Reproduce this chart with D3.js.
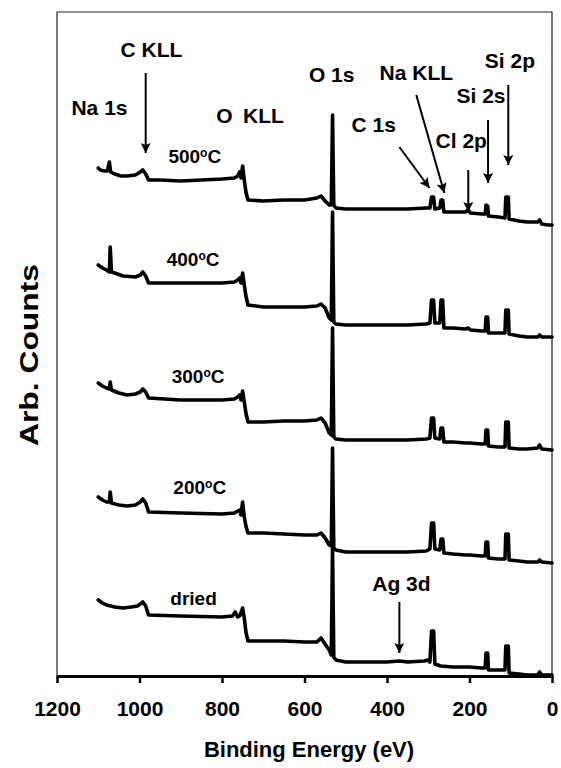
<!DOCTYPE html>
<html>
<head>
<meta charset="utf-8">
<script src="https://cdn.jsdelivr.net/npm/d3@7/dist/d3.min.js"></script>
<style>
  body { margin: 0; background: #fff; }
  text { font-family: "Liberation Sans", Arial, sans-serif; font-weight: bold; fill: #000; }
</style>
</head>
<body>
<div id="chart"></div>
<script>
// binding energy (eV) ticks
var ticks = [1200, 1000, 800, 600, 400, 200, 0];

// spectra: [binding energy, arb. counts]
var s500 = [[1100,508],[1095,506],[1085,505],[1078,505],[1073,514],[1070,504],[1060,502],[1045,500],[1030,500],[1010,501],[998,504],[992,506],[985,502],[978,496],[950,496],[900,495],[850,496],[800,497],[770,498],[762,500],[757,504],[754,498],[750,510],[746,496],[742,484],[737,476],[700,475],[650,476],[600,476],[570,478],[560,480],[550,475],[540,471],[535,471],[532,561],[529,471],[524,468],[500,467],[450,467],[400,467],[350,467],[305,468],[296,468],[292,479],[287,479],[284,467],[272,468],[269,476],[265,476],[262,464],[240,464],[210,464],[203,466],[198,463],[170,462],[162,462],[160,471],[156,470],[154,460],[130,459],[114,458],[112,479],[106,479],[104,457],[80,455],[60,454],[35,454],[30,456],[25,452],[10,451],[0,451]];
var s400 = [[1100,411],[1090,408],[1080,406],[1073,404],[1071,429],[1068,404],[1060,403],[1040,400],[1010,399],[998,401],[992,404],[985,400],[978,393],[900,393],[800,393],[770,394],[762,396],[757,398],[754,393],[750,403],[746,391],[742,380],[737,371],[700,369],[650,369],[600,369],[570,370],[560,372],[550,368],[540,358],[535,356],[532,464],[529,354],[524,352],[500,351],[450,351],[400,351],[350,351],[305,352],[296,353],[292,376],[287,376],[284,353],[272,353],[269,376],[265,376],[262,348],[240,348],[210,347],[203,348],[198,346],[170,345],[162,345],[160,359],[156,359],[154,343],[130,343],[114,343],[112,366],[106,366],[104,342],[80,340],[60,339],[35,339],[30,341],[25,339],[0,339]];
var s300 = [[1100,293],[1090,290],[1080,288],[1073,287],[1071,294],[1068,286],[1050,283],[1030,281],[1010,282],[998,284],[992,287],[985,284],[978,278],[900,276],[800,276],[770,277],[762,279],[757,281],[754,276],[750,285],[746,274],[742,263],[737,254],[700,254],[650,255],[600,255],[570,256],[560,258],[550,253],[540,243],[535,241],[532,348],[529,239],[524,237],[500,236],[450,236],[400,236],[350,236],[305,237],[296,238],[292,258],[287,258],[284,238],[272,237],[269,248],[265,248],[262,234],[240,234],[210,233],[200,233],[170,232],[162,232],[160,246],[156,246],[154,230],[130,229],[114,229],[112,254],[106,254],[104,228],[80,227],[60,227],[35,228],[30,231],[25,227],[0,226]];
var s200 = [[1100,179],[1090,176],[1080,174],[1073,174],[1071,184],[1068,173],[1050,171],[1030,170],[1010,171],[998,174],[992,177],[985,173],[978,164],[900,163],[800,162],[770,163],[762,165],[757,166],[754,161],[750,174],[746,159],[742,150],[737,143],[700,143],[650,142],[600,141],[570,141],[560,143],[550,138],[540,131],[535,130],[532,228],[529,128],[524,126],[500,124],[450,124],[400,124],[350,124],[305,125],[296,127],[292,153],[287,153],[284,127],[272,126],[269,137],[265,137],[262,123],[240,122],[210,121],[200,121],[170,120],[162,120],[160,134],[156,134],[154,118],[130,117],[114,117],[112,142],[106,142],[104,116],[80,115],[60,114],[35,114],[30,116],[25,114],[0,113]];
var sDried = [[1100,76],[1090,73],[1080,71],[1060,69],[1040,68],[1020,69],[1005,70],[998,72],[992,74],[985,70],[978,61],[900,60],[800,59],[775,60],[768,64],[762,59],[757,60],[750,68],[746,58],[742,44],[737,35],[700,35],[650,35],[600,34],[570,34],[560,38],[552,33],[540,26],[535,21],[532,128],[529,19],[524,16],[500,14],[450,14],[400,14],[370,15],[350,14],[310,15],[300,16],[296,14],[292,45],[287,45],[284,12],[270,10],[240,9],[200,9],[170,8],[162,8],[160,23],[156,23],[154,6],[130,6],[114,6],[112,30],[106,30],[104,3],[80,2],[60,1],[35,1],[30,4],[25,1],[0,1]];

// series labels: [text, binding energy, counts]
var seriesLabels = [["500", 866, 513], ["400", 870, 410], ["300", 858, 293], ["200", 854, 182], ["dried", 869, 71]];

// peak labels: [text, binding energy, counts]
var peakLabels = [["Na 1s", 1097, 561], ["C KLL", 971, 619], ["O\u2002KLL", 732, 553], ["O 1s", 534, 594],
                  ["Na KLL", 329, 596], ["C 1s", 432, 544], ["Cl 2p", 220, 528], ["Si 2s", 172, 573],
                  ["Si 2p", 102, 608], ["Ag 3d", 365, 85]];

// arrows: [from BE, from counts, to BE, to counts]
var arrows = [[985, 603, 985, 523], [370, 529, 297, 488], [329, 581, 261, 483], [203, 506, 203, 464],
              [155, 556, 155, 493], [106, 591, 106, 511], [370, 74, 370, 23]];

var W = 561, H = 768;
var margin = {top: 12, right: 9, bottom: 92, left: 57};
var width = W - margin.left - margin.right,
    height = H - margin.top - margin.bottom;

var svg = d3.select("#chart").append("svg")
    .attr("width", W)
    .attr("height", H);

var g = svg.append("g")
    .attr("transform", "translate(" + margin.left + "," + margin.top + ")");

var x = d3.scaleLinear().domain([1200, 0]).range([0, width]);
var y = d3.scaleLinear().domain([0, 664]).range([height, 0]);

// frame (thin top/left/right)
g.append("path")
    .attr("d", "M0," + height + "V0H" + width + "V" + height)
    .attr("fill", "none")
    .attr("stroke", "#222")
    .attr("stroke-width", 1.2);

// x axis
var xAxis = g.append("g")
    .attr("transform", "translate(0," + height + ")")
    .call(d3.axisBottom(x).tickValues(ticks).tickSize(7).tickSizeOuter(0).tickFormat(d3.format("d")));
xAxis.select(".domain").attr("stroke", "#000").attr("stroke-width", 3);
xAxis.selectAll(".tick line").attr("stroke", "#000").attr("stroke-width", 2.5);
xAxis.selectAll(".tick text")
    .attr("y", 40).attr("dy", null)
    .style("font-size", "21px")
    .style("font-family", "'Liberation Sans', Arial, sans-serif")
    .style("font-weight", "bold")
    .attr("fill", "#000");

// axis titles
svg.append("text")
    .attr("x", 309).attr("y", 757)
    .attr("text-anchor", "middle")
    .style("font-size", "22px")
    .text("Binding Energy (eV)");

svg.append("text")
    .attr("transform", "translate(38,355) rotate(-90)")
    .attr("text-anchor", "middle")
    .attr("textLength", 182)
    .attr("lengthAdjust", "spacingAndGlyphs")
    .style("font-size", "25px")
    .text("Arb. Counts");

// spectra
var line = d3.line()
    .x(function(d) { return x(d[0]); })
    .y(function(d) { return y(d[1]); });

[s500, s400, s300, s200, sDried].forEach(function(s) {
    g.append("path")
        .datum(s)
        .attr("d", line)
        .attr("fill", "none")
        .attr("stroke", "#000")
        .attr("stroke-width", 3.6)
        .attr("stroke-linejoin", "round")
        .attr("stroke-linecap", "round");
});

// series labels with superscript o
seriesLabels.forEach(function(d) {
    var t = g.append("text")
        .attr("x", x(d[1])).attr("y", y(d[2]))
        .attr("text-anchor", "middle")
        .style("font-size", "19px");
    t.append("tspan").text(d[0]);
    if (d[0] != "dried") {
        t.append("tspan").attr("dy", -6).style("font-size", "12px").text("o");
        t.append("tspan").attr("dy", 6).text("C");
    }
});

// peak labels
g.selectAll(".peak")
    .data(peakLabels)
    .enter().append("text")
    .attr("class", "peak")
    .attr("x", function(d) { return x(d[1]); })
    .attr("y", function(d) { return y(d[2]); })
    .attr("text-anchor", "middle")
    .style("font-size", "21px")
    .text(function(d) { return d[0]; });

// arrows
svg.append("defs").append("marker")
    .attr("id", "head")
    .attr("viewBox", "0 0 10 10")
    .attr("refX", 10).attr("refY", 5)
    .attr("markerWidth", 6).attr("markerHeight", 5)
    .attr("markerUnits", "strokeWidth")
    .attr("orient", "auto")
  .append("path")
    .attr("d", "M0,0L10,5L0,10L2,5Z")
    .attr("fill", "#000");

g.selectAll(".arrow")
    .data(arrows)
    .enter().append("line")
    .attr("class", "arrow")
    .attr("x1", function(d) { return x(d[0]); })
    .attr("y1", function(d) { return y(d[1]); })
    .attr("x2", function(d) { return x(d[2]); })
    .attr("y2", function(d) { return y(d[3]); })
    .attr("stroke", "#000")
    .attr("stroke-width", 2)
    .attr("marker-end", "url(#head)");
</script>
</body>
</html>
